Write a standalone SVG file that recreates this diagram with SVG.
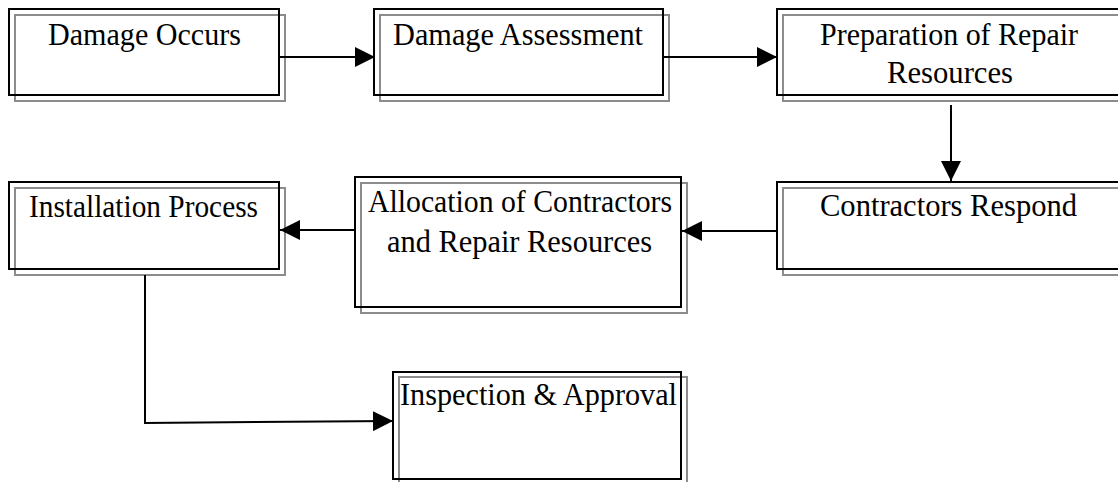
<svg xmlns="http://www.w3.org/2000/svg" width="1118" height="482" viewBox="0 0 1118 482">
<style>
.sh{fill:none;stroke:#8c8c8c;stroke-width:2}
.bx{fill:none;stroke:#000;stroke-width:2}
.t{font-family:"Liberation Serif","Times New Roman",serif;font-size:31px;fill:#000;text-anchor:middle}
.c{fill:none;stroke:#000;stroke-width:2}
</style>
<defs>
<marker id="ah" markerUnits="userSpaceOnUse" markerWidth="20" markerHeight="20" refX="20" refY="10" orient="auto">
<path d="M0,0 L20,10 L0,20 Z" fill="#000"/>
</marker>
</defs>
<rect width="1118" height="482" fill="#fff"/>
<g id="n1">
<rect class="sh" x="15" y="15" width="270" height="86"/>
<rect class="bx" x="9" y="9" width="270" height="86"/>
<text class="t" x="144.5" y="45" textLength="193" lengthAdjust="spacingAndGlyphs">Damage Occurs</text>
</g>
<g id="n2">
<rect class="sh" x="380" y="15" width="289" height="86"/>
<rect class="bx" x="374" y="9" width="289" height="86"/>
<text class="t" x="518" y="45" textLength="250" lengthAdjust="spacingAndGlyphs">Damage Assessment</text>
</g>
<g id="n3">
<rect class="sh" x="783" y="15" width="346" height="86"/>
<rect class="bx" x="777" y="9" width="346" height="86"/>
<text class="t" x="949" y="45" textLength="258" lengthAdjust="spacingAndGlyphs">Preparation of Repair</text>
<text class="t" x="950" y="83" textLength="126" lengthAdjust="spacingAndGlyphs">Resources</text>
</g>
<g id="n4">
<rect class="sh" x="783" y="188" width="346" height="87"/>
<rect class="bx" x="777" y="182" width="346" height="87"/>
<text class="t" x="948.5" y="216" textLength="257" lengthAdjust="spacingAndGlyphs">Contractors Respond</text>
</g>
<g id="n5">
<rect class="sh" x="361" y="183" width="326" height="130"/>
<rect class="bx" x="355" y="177" width="326" height="130"/>
<text class="t" x="520" y="212" textLength="304" lengthAdjust="spacingAndGlyphs">Allocation of Contractors</text>
<text class="t" x="519.5" y="252" textLength="265" lengthAdjust="spacingAndGlyphs">and Repair Resources</text>
</g>
<g id="n6">
<rect class="sh" x="15" y="188" width="270" height="87"/>
<rect class="bx" x="9" y="182" width="270" height="87"/>
<text class="t" x="143.5" y="217" textLength="229" lengthAdjust="spacingAndGlyphs">Installation Process</text>
</g>
<g id="n7">
<rect class="sh" x="399" y="377" width="288" height="108"/>
<rect class="bx" x="393" y="372" width="288" height="107"/>
<text class="t" x="538.5" y="405" textLength="277" lengthAdjust="spacingAndGlyphs">Inspection &amp; Approval</text>
</g>
<g id="connectors">
<path class="c" d="M279,57 L375,57" marker-end="url(#ah)"/>
<path class="c" d="M663,57 L777,57" marker-end="url(#ah)"/>
<path class="c" d="M951,105 L951,181" marker-end="url(#ah)"/>
<path class="c" d="M777,231 L682,231" marker-end="url(#ah)"/>
<path class="c" d="M355,230 L280,230" marker-end="url(#ah)"/>
<path class="c" d="M145,275 L145,423 L393,421" marker-end="url(#ah)"/>
</g>
</svg>
